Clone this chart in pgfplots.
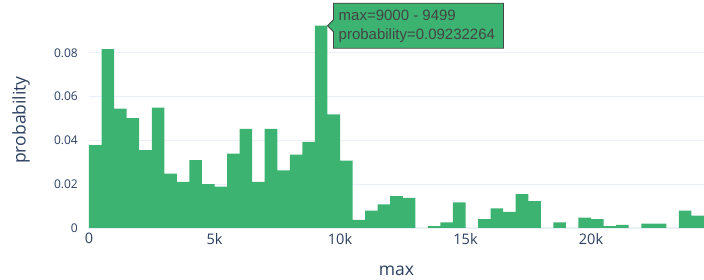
\documentclass[border=0pt]{standalone}
\usepackage{pgfplots}
\pgfplotsset{compat=1.18}
\usepackage{fontspec}
\setmainfont{Open Sans}
\newfontfamily\tipfont{Liberation Sans}
\definecolor{bargreen}{HTML}{3CB371}
\definecolor{gridc}{HTML}{EBF0F8}
\definecolor{txt}{HTML}{2A3F5F}
\definecolor{tipline}{HTML}{444444}
\begin{document}
\begin{tikzpicture}[x=1pt,y=1pt]
\begin{axis}[
  name=ax,
  at={(0,0)}, anchor=south west,
  scale only axis, width=615pt, height=216pt,
  xmin=0, xmax=24500, ymin=0, ymax=0.0986,
  axis line style={draw=none},
  major tick length=0pt,
  ymajorgrids, grid style={gridc, line width=0.8pt},
  xtick={0,5000,10000,15000,20000},
  xticklabels={0,5k,10k,15k,20k},
  ytick={0,0.02,0.04,0.06,0.08},
  yticklabels={0,0.02,0.04,0.06,0.08},
  tick label style={text=txt, inner sep=0pt},
  xticklabel style={font=\fontsize{14.5}{16}\selectfont},
  yticklabel style={font=\fontsize{12}{14}\selectfont},
  xticklabel shift=5pt,
  yticklabel shift=11pt,
  scaled ticks=false,
  clip=false,
]
\addplot[ybar interval, fill=bargreen, draw=none] table[x=x, y=y] {
x y
0 0.0378
500 0.0816
1000 0.0545
1500 0.0501
2000 0.0355
2500 0.0549
3000 0.0248
3500 0.0210
4000 0.0310
4500 0.0200
5000 0.0189
5500 0.0339
6000 0.0453
6500 0.0210
7000 0.0453
7500 0.0263
8000 0.0335
8500 0.0393
9000 0.09232264
9500 0.0519
10000 0.0307
10500 0.0037
11000 0.0079
11500 0.0108
12000 0.0145
12500 0.0138
13000 0
13500 0.0009
14000 0.0026
14500 0.0117
15000 0
15500 0.0041
16000 0.0090
16500 0.0074
17000 0.0155
17500 0.0123
18000 0
18500 0.0026
19000 0
19500 0.0047
20000 0.0041
20500 0.0009
21000 0.0014
21500 0
22000 0.0020
22500 0.0020
23000 0
23500 0.0079
24000 0.0056
24500 0.0056
};
\coordinate (tip) at (axis cs:9500,0.09232264);
\end{axis}
\node[rotate=90, text=txt, font=\fontsize{17.5}{20}\selectfont] at (-68,108) {probability};
\node[text=txt, font=\fontsize{17.5}{20}\selectfont] at (307.5,-43) {max};
\begin{scope}[shift={(tip)}]
\path[fill=bargreen, draw=tipline, line width=0.8pt]
  (0,0) -- (6,6) -- (6,22.5) -- (176,22.5) -- (176,-22.5) -- (6,-22.5) -- (6,-6) -- cycle;
\node[anchor=west, inner sep=0pt, text=tipline, font=\tipfont\fontsize{15}{17}\selectfont] at (11,10) {max=9000 - 9499};
\node[anchor=west, inner sep=0pt, text=tipline, font=\tipfont\fontsize{15}{17}\selectfont] at (11,-10) {probability=0.09232264};
\end{scope}
\pgfresetboundingbox
\path[use as bounding box] (-89,-52) rectangle (615,228);
\end{tikzpicture}
\end{document}
